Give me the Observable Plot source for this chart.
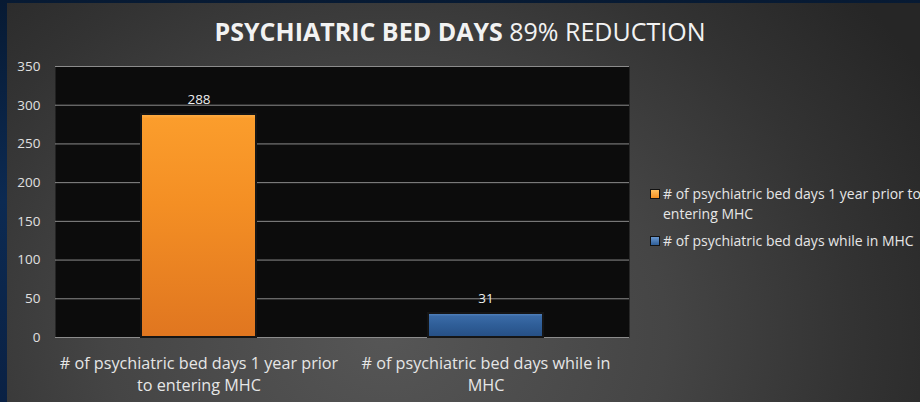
<!DOCTYPE html>
<html>
<head>
<meta charset="utf-8">
<script src="https://cdn.jsdelivr.net/npm/d3@7"></script>
<script src="https://cdn.jsdelivr.net/npm/@observablehq/plot@0.6"></script>
<style>
  html, body { margin: 0; padding: 0; }
  body { width: 920px; height: 402px; overflow: hidden; position: relative;
    background: linear-gradient(180deg, #071a33 0%, #0c2a52 50%, #0a2144 100%); font-family: "Open Sans", sans-serif; }
  #panel { position: absolute; left: 7px; top: 3px; width: 913px; height: 399px;
    background: radial-gradient(ellipse 620px 520px at 380px 330px, #565656 0%, #454545 45%, #333 75%, #262626 100%); }
  #title { position: absolute; left: 0; top: 14px; width: 920px; text-align: center; color: #f2f2f2;
    font-size: 25px; line-height: 34px; white-space: nowrap; }
  #title b { font-weight: 700; }
  #chart { position: absolute; left: 0; top: 40px; }
  #legend { position: absolute; left: 650px; top: 184px; width: 290px; color: #e6e6e6; font-size: 14px; line-height: 20px; }
  .item { position: relative; padding-left: 13px; margin-bottom: 7px; }
  .sw { position: absolute; left: 0; top: 5px; width: 8px; height: 8px; border: 1px solid #111; }
</style>
</head>
<body>
<div id="panel"></div>
<div id="title"></div>
<div id="chart"></div>
<div id="legend"></div>
<script>
const categories = [
  "# of psychiatric bed days 1 year prior to entering MHC",
  "# of psychiatric bed days while in MHC"
];
const xTickLabels = [
  "# of psychiatric bed days 1 year prior\nto entering MHC",
  "# of psychiatric bed days while in\nMHC"
];
const values = [288, 31];
const yTicks = [0, 50, 100, 150, 200, 250, 300, 350];
const titleBold = "PSYCHIATRIC BED DAYS";
const titleRest = "89% REDUCTION";
const legendLabels = [
  "# of psychiatric bed days 1 year prior to entering MHC",
  "# of psychiatric bed days while in MHC"
];
const fills = ["url(#gOrange)", "url(#gBlue)"];
const swatchColors = ["#f39022", "#2d5d97"];

const data = categories.map((c, i) => ({category: c, value: values[i], fill: fills[i]}));

document.getElementById("title").innerHTML = `<b>${titleBold}</b> ${titleRest}`;

const defs = () => {
  const g = d3.create("svg:defs");
  const o = g.append("linearGradient").attr("id", "gOrange").attr("x1", 0).attr("y1", 0).attr("x2", 0).attr("y2", 1);
  [["0%", "#ffb14a"], ["2%", "#fb9d2c"], ["40%", "#f48f24"], ["100%", "#e07620"]].forEach(([o1, c]) => o.append("stop").attr("offset", o1).attr("stop-color", c));
  const b = g.append("linearGradient").attr("id", "gBlue").attr("x1", 0).attr("y1", 0).attr("x2", 0).attr("y2", 1);
  [["0%", "#5a8ac4"], ["14%", "#3a6aa6"], ["50%", "#2f5e98"], ["100%", "#264f84"]].forEach(([o1, c]) => b.append("stop").attr("offset", o1).attr("stop-color", c));
  return g.node();
};

const chart = Plot.plot({
  width: 640,
  height: 362,
  marginLeft: 55,
  marginRight: 11,
  marginTop: 26,
  marginBottom: 65,
  style: {background: "transparent", color: "#e0e0e0", fontFamily: "'Open Sans', sans-serif"},
  x: {domain: categories, paddingInner: 0.6, paddingOuter: 0.3, label: null},
  y: {domain: [0, 350], label: null},
  color: {type: "identity"},
  marks: [
    defs,
    Plot.frame({fill: "#0c0c0c", stroke: null}),
    Plot.ruleY(yTicks, {stroke: "#8c8c8c", strokeWidth: 1}),
    Plot.barY(data, {x: "category", y: "value", fill: (d) => d.fill, stroke: "#151515", strokeWidth: 2}),
    Plot.text(data, {x: "category", y: "value", text: (d) => String(d.value), dy: -15, fill: "#eeeeee", fontSize: 13.5}),
    Plot.axisY({ticks: yTicks, tickSize: 0, tickPadding: 15, fontSize: 13.5, fill: "#e0e0e0", label: null}),
    Plot.axisX({tickSize: 0, tickPadding: 17, fontSize: 16.2, fill: "#e6e6e6", lineHeight: 1.3,
      tickFormat: (c) => xTickLabels[categories.indexOf(c)], label: null})
  ]
});
document.getElementById("chart").appendChild(chart);

const leg = document.getElementById("legend");
legendLabels.forEach((l, i) => {
  const it = document.createElement("div");
  it.className = "item";
  const sw = document.createElement("span");
  sw.className = "sw";
  sw.style.background = `linear-gradient(180deg, ${i === 0 ? "#ffc060" : "#6a98d0"}, ${swatchColors[i]})`;
  it.appendChild(sw);
  it.appendChild(document.createTextNode(l));
  leg.appendChild(it);
});
</script>
</body>
</html>
